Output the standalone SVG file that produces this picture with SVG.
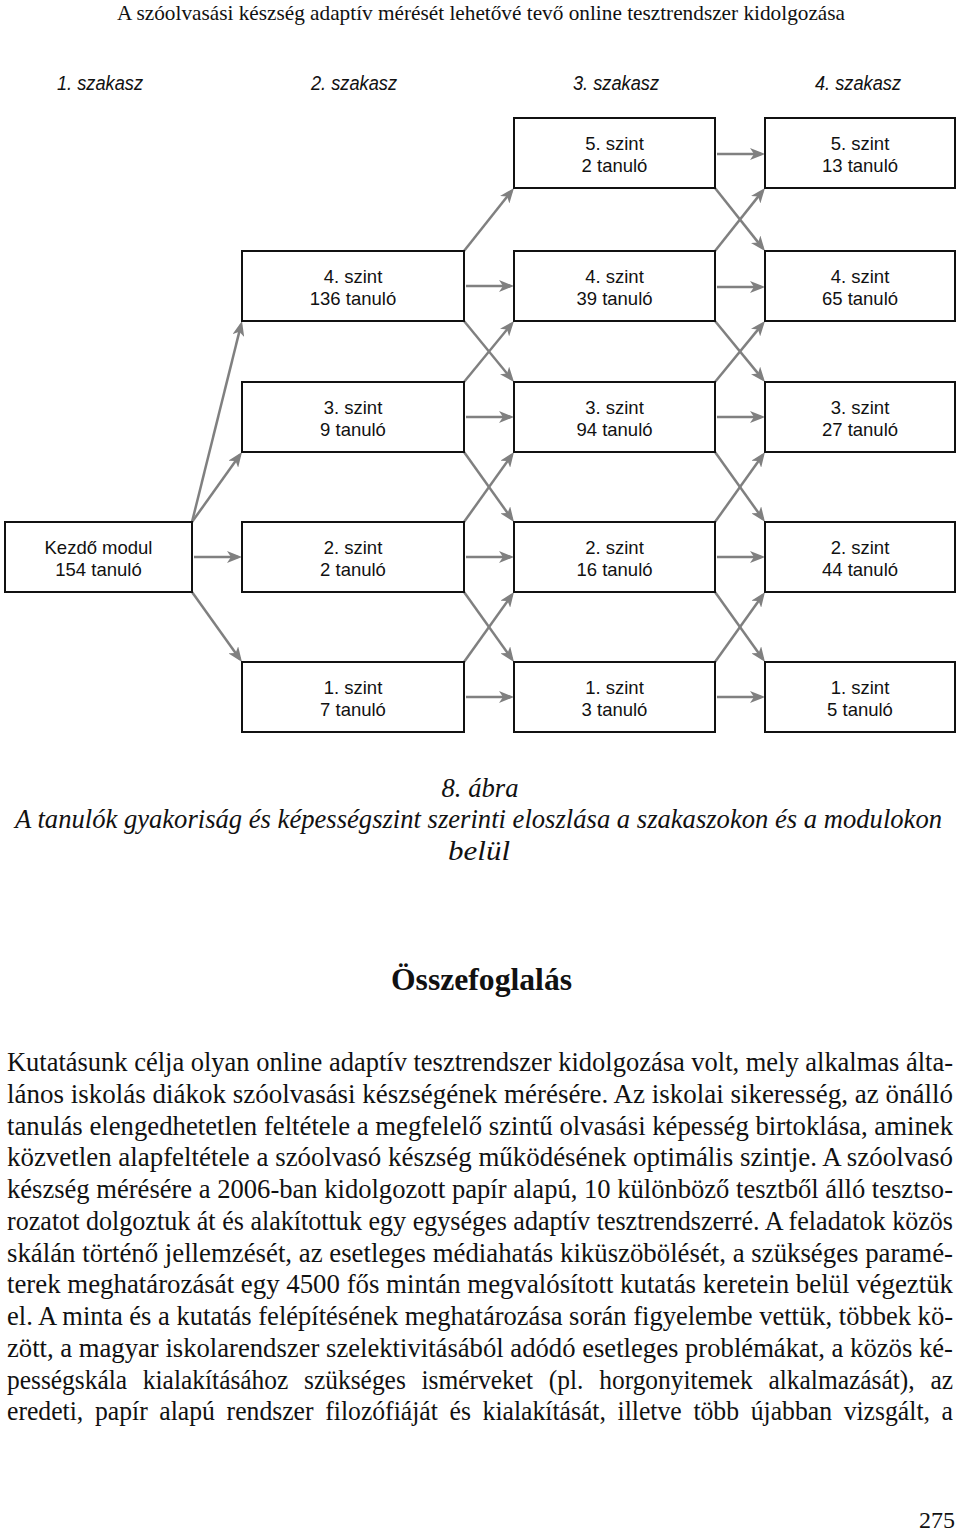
<svg xmlns="http://www.w3.org/2000/svg" width="960" height="1532" viewBox="0 0 960 1532">
<style>
.bx{fill:#fff;stroke:#111;stroke-width:2}
.bt{font-family:"Liberation Sans",Arial,sans-serif;font-size:18.5px;fill:#111;text-anchor:middle}
.hd{font-family:"Liberation Sans",Arial,sans-serif;font-size:20px;font-style:italic;fill:#111;text-anchor:middle}
.cn line{stroke:#808080;stroke-width:2.5;fill:none;marker-end:url(#ah)}
.ser{font-family:"Liberation Serif","Times New Roman",serif;fill:#111}
.body{font-size:24.5px}
.cap{font-size:25px;font-style:italic;text-anchor:middle}
</style>
<defs>
<marker id="ah" viewBox="0 0 15 12" markerWidth="15" markerHeight="12" markerUnits="userSpaceOnUse" refX="11" refY="6" orient="auto">
<path d="M0,0 L15,6 L0,12 L4,6 Z" fill="#808080"/>
</marker>
</defs>
<rect width="960" height="1532" fill="#fff"/>
<text class="ser" x="481" y="20" font-size="21" text-anchor="middle" textLength="728" lengthAdjust="spacingAndGlyphs">A szóolvasási készség adaptív mérését lehetővé tevő online tesztrendszer kidolgozása</text>
<g id="headers">
<text class="hd" x="100" y="90" textLength="86" lengthAdjust="spacingAndGlyphs">1. szakasz</text>
<text class="hd" x="354" y="90" textLength="86" lengthAdjust="spacingAndGlyphs">2. szakasz</text>
<text class="hd" x="616" y="90" textLength="86" lengthAdjust="spacingAndGlyphs">3. szakasz</text>
<text class="hd" x="858" y="90" textLength="86" lengthAdjust="spacingAndGlyphs">4. szakasz</text>
</g>
<g class="cn" id="connectors">
<line x1="192" y1="522" x2="241.03" y2="324.88"/>
<line x1="192" y1="522" x2="239.67" y2="455.26"/>
<line x1="194" y1="557" x2="238" y2="557"/>
<line x1="192" y1="592" x2="239.67" y2="658.74"/>
<line x1="464" y1="251" x2="511.51" y2="191.13"/>
<line x1="466" y1="286" x2="510" y2="286"/>
<line x1="464" y1="321" x2="511.47" y2="378.91"/>
<line x1="464" y1="382" x2="511.47" y2="324.09"/>
<line x1="466" y1="417" x2="510" y2="417"/>
<line x1="464" y1="452" x2="511.67" y2="518.74"/>
<line x1="464" y1="522" x2="511.67" y2="455.26"/>
<line x1="466" y1="557" x2="510" y2="557"/>
<line x1="464" y1="592" x2="511.67" y2="658.74"/>
<line x1="464" y1="662" x2="511.67" y2="595.26"/>
<line x1="466" y1="697" x2="510" y2="697"/>
<line x1="717" y1="154" x2="761" y2="154"/>
<line x1="715" y1="188" x2="762.51" y2="247.87"/>
<line x1="715" y1="251" x2="762.51" y2="191.13"/>
<line x1="717" y1="287" x2="761" y2="287"/>
<line x1="715" y1="321" x2="762.47" y2="378.91"/>
<line x1="715" y1="382" x2="762.47" y2="324.09"/>
<line x1="717" y1="417" x2="761" y2="417"/>
<line x1="715" y1="452" x2="762.67" y2="518.74"/>
<line x1="715" y1="522" x2="762.67" y2="455.26"/>
<line x1="717" y1="557" x2="761" y2="557"/>
<line x1="715" y1="592" x2="762.67" y2="658.74"/>
<line x1="715" y1="662" x2="762.67" y2="595.26"/>
<line x1="717" y1="697" x2="761" y2="697"/>
</g>
<g id="n-kezdo"><rect class="bx" x="5" y="522" width="187" height="70"/><text class="bt" x="98.5" y="554">Kezdő modul</text><text class="bt" x="98.5" y="576">154 tanuló</text></g>
<g id="n-2-4"><rect class="bx" x="242" y="251" width="222" height="70"/><text class="bt" x="353" y="283">4. szint</text><text class="bt" x="353" y="305">136 tanuló</text></g>
<g id="n-2-3"><rect class="bx" x="242" y="382" width="222" height="70"/><text class="bt" x="353" y="414">3. szint</text><text class="bt" x="353" y="436">9 tanuló</text></g>
<g id="n-2-2"><rect class="bx" x="242" y="522" width="222" height="70"/><text class="bt" x="353" y="554">2. szint</text><text class="bt" x="353" y="576">2 tanuló</text></g>
<g id="n-2-1"><rect class="bx" x="242" y="662" width="222" height="70"/><text class="bt" x="353" y="694">1. szint</text><text class="bt" x="353" y="716">7 tanuló</text></g>
<g id="n-3-5"><rect class="bx" x="514" y="118" width="201" height="70"/><text class="bt" x="614.5" y="150">5. szint</text><text class="bt" x="614.5" y="172">2 tanuló</text></g>
<g id="n-3-4"><rect class="bx" x="514" y="251" width="201" height="70"/><text class="bt" x="614.5" y="283">4. szint</text><text class="bt" x="614.5" y="305">39 tanuló</text></g>
<g id="n-3-3"><rect class="bx" x="514" y="382" width="201" height="70"/><text class="bt" x="614.5" y="414">3. szint</text><text class="bt" x="614.5" y="436">94 tanuló</text></g>
<g id="n-3-2"><rect class="bx" x="514" y="522" width="201" height="70"/><text class="bt" x="614.5" y="554">2. szint</text><text class="bt" x="614.5" y="576">16 tanuló</text></g>
<g id="n-3-1"><rect class="bx" x="514" y="662" width="201" height="70"/><text class="bt" x="614.5" y="694">1. szint</text><text class="bt" x="614.5" y="716">3 tanuló</text></g>
<g id="n-4-5"><rect class="bx" x="765" y="118" width="190" height="70"/><text class="bt" x="860" y="150">5. szint</text><text class="bt" x="860" y="172">13 tanuló</text></g>
<g id="n-4-4"><rect class="bx" x="765" y="251" width="190" height="70"/><text class="bt" x="860" y="283">4. szint</text><text class="bt" x="860" y="305">65 tanuló</text></g>
<g id="n-4-3"><rect class="bx" x="765" y="382" width="190" height="70"/><text class="bt" x="860" y="414">3. szint</text><text class="bt" x="860" y="436">27 tanuló</text></g>
<g id="n-4-2"><rect class="bx" x="765" y="522" width="190" height="70"/><text class="bt" x="860" y="554">2. szint</text><text class="bt" x="860" y="576">44 tanuló</text></g>
<g id="n-4-1"><rect class="bx" x="765" y="662" width="190" height="70"/><text class="bt" x="860" y="694">1. szint</text><text class="bt" x="860" y="716">5 tanuló</text></g>
<g id="caption" class="ser cap">
<text transform="translate(480,797) scale(1,1.1)" textLength="77" lengthAdjust="spacingAndGlyphs">8. ábra</text>
<text transform="translate(478.5,828) scale(1,1.1)" textLength="927" lengthAdjust="spacingAndGlyphs">A tanulók gyakoriság és képességszint szerinti eloszlása a szakaszokon és a modulokon</text>
<text transform="translate(479,860) scale(1,1.1)" textLength="62" lengthAdjust="spacingAndGlyphs">belül</text>
</g>
<text class="ser" transform="translate(481.5,990) scale(1,1.1)" font-size="28" font-weight="bold" text-anchor="middle" textLength="181" lengthAdjust="spacingAndGlyphs">Összefoglalás</text>
<g id="body" class="ser body">
<text transform="translate(7,1071) scale(1,1.1)" textLength="946" lengthAdjust="spacingAndGlyphs">Kutatásunk célja olyan online adaptív tesztrendszer kidolgozása volt, mely alkalmas álta-</text>
<text transform="translate(7,1103) scale(1,1.1)" textLength="946" lengthAdjust="spacingAndGlyphs">lános iskolás diákok szóolvasási készségének mérésére. Az iskolai sikeresség, az önálló</text>
<text transform="translate(7,1135) scale(1,1.1)" textLength="946" lengthAdjust="spacingAndGlyphs">tanulás elengedhetetlen feltétele a megfelelő szintű olvasási képesség birtoklása, aminek</text>
<text transform="translate(7,1166) scale(1,1.1)" textLength="946" lengthAdjust="spacingAndGlyphs">közvetlen alapfeltétele a szóolvasó készség működésének optimális szintje. A szóolvasó</text>
<text transform="translate(7,1198) scale(1,1.1)" textLength="946" lengthAdjust="spacingAndGlyphs">készség mérésére a 2006-ban kidolgozott papír alapú, 10 különböző tesztből álló tesztso-</text>
<text transform="translate(7,1230) scale(1,1.1)" textLength="946" lengthAdjust="spacingAndGlyphs">rozatot dolgoztuk át és alakítottuk egy egységes adaptív tesztrendszerré. A feladatok közös</text>
<text transform="translate(7,1262) scale(1,1.1)" textLength="946" lengthAdjust="spacingAndGlyphs">skálán történő jellemzését, az esetleges médiahatás kiküszöbölését, a szükséges paramé-</text>
<text transform="translate(7,1293) scale(1,1.1)" textLength="946" lengthAdjust="spacingAndGlyphs">terek meghatározását egy 4500 fős mintán megvalósított kutatás keretein belül végeztük</text>
<text transform="translate(7,1325) scale(1,1.1)" textLength="946" lengthAdjust="spacingAndGlyphs">el. A minta és a kutatás felépítésének meghatározása során figyelembe vettük, többek kö-</text>
<text transform="translate(7,1357) scale(1,1.1)" textLength="946" lengthAdjust="spacingAndGlyphs">zött, a magyar iskolarendszer szelektivitásából adódó esetleges problémákat, a közös ké-</text>
<text transform="translate(7,1389) scale(1,1.1)" textLength="946" lengthAdjust="spacingAndGlyphs" word-spacing="9">pességskála kialakításához szükséges ismérveket (pl. horgonyitemek alkalmazását), az</text>
<text transform="translate(7,1420) scale(1,1.1)" textLength="946" lengthAdjust="spacingAndGlyphs" word-spacing="5">eredeti, papír alapú rendszer filozófiáját és kialakítását, illetve több újabban vizsgált, a</text>
</g>
<text class="ser" x="955" y="1528" font-size="24" text-anchor="end">275</text>
</svg>
